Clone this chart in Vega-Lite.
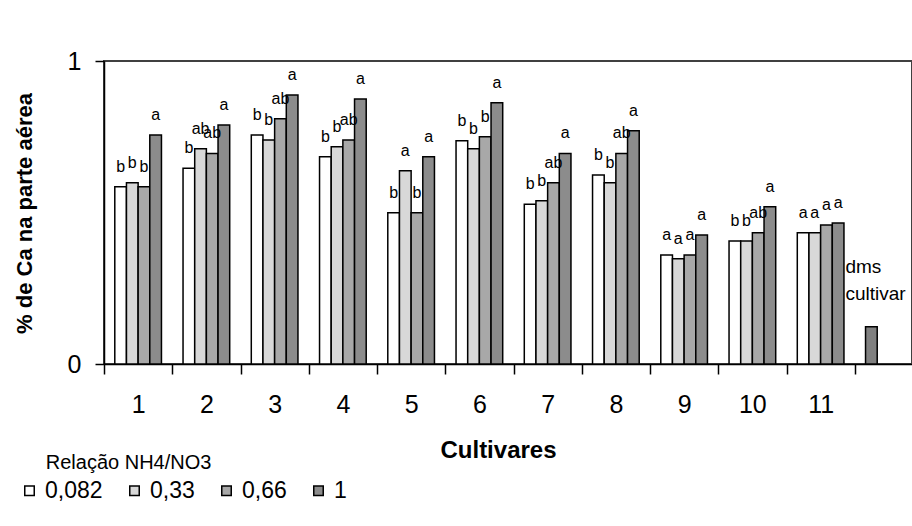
{
  "$schema": "https://vega.github.io/schema/vega-lite/v6.json",
  "autosize": "none",
  "padding": {"left": 104, "top": 61, "right": 0, "bottom": 162},
  "width": 808,
  "height": 303,
  "background": "white",
  "config": {
    "font": "Liberation Sans",
    "view": {"stroke": "#404040", "strokeWidth": 2},
    "axis": {"grid": false, "domainColor": "black", "tickColor": "black", "labelColor": "black", "titleColor": "black", "domainWidth": 1.5, "tickWidth": 1.5}
  },
  "data": {
    "values": [
      {"cultivar": 1, "relacao": "0,082", "valor": 0.585, "letra": "b"},
      {"cultivar": 1, "relacao": "0,33", "valor": 0.598, "letra": "b"},
      {"cultivar": 1, "relacao": "0,66", "valor": 0.585, "letra": "b"},
      {"cultivar": 1, "relacao": "1", "valor": 0.756, "letra": "a"},
      {"cultivar": 2, "relacao": "0,082", "valor": 0.646, "letra": "b"},
      {"cultivar": 2, "relacao": "0,33", "valor": 0.710, "letra": "ab"},
      {"cultivar": 2, "relacao": "0,66", "valor": 0.695, "letra": "ab"},
      {"cultivar": 2, "relacao": "1", "valor": 0.789, "letra": "a"},
      {"cultivar": 3, "relacao": "0,082", "valor": 0.756, "letra": "b"},
      {"cultivar": 3, "relacao": "0,33", "valor": 0.739, "letra": "b"},
      {"cultivar": 3, "relacao": "0,66", "valor": 0.809, "letra": "ab"},
      {"cultivar": 3, "relacao": "1", "valor": 0.888, "letra": "a"},
      {"cultivar": 4, "relacao": "0,082", "valor": 0.684, "letra": "b"},
      {"cultivar": 4, "relacao": "0,33", "valor": 0.717, "letra": "b"},
      {"cultivar": 4, "relacao": "0,66", "valor": 0.739, "letra": "ab"},
      {"cultivar": 4, "relacao": "1", "valor": 0.875, "letra": "a"},
      {"cultivar": 5, "relacao": "0,082", "valor": 0.499, "letra": "b"},
      {"cultivar": 5, "relacao": "0,33", "valor": 0.638, "letra": "a"},
      {"cultivar": 5, "relacao": "0,66", "valor": 0.499, "letra": "b"},
      {"cultivar": 5, "relacao": "1", "valor": 0.684, "letra": "a"},
      {"cultivar": 6, "relacao": "0,082", "valor": 0.737, "letra": "b"},
      {"cultivar": 6, "relacao": "0,33", "valor": 0.710, "letra": "b"},
      {"cultivar": 6, "relacao": "0,66", "valor": 0.750, "letra": "b"},
      {"cultivar": 6, "relacao": "1", "valor": 0.862, "letra": "a"},
      {"cultivar": 7, "relacao": "0,082", "valor": 0.527, "letra": "b"},
      {"cultivar": 7, "relacao": "0,33", "valor": 0.539, "letra": "b"},
      {"cultivar": 7, "relacao": "0,66", "valor": 0.598, "letra": "ab"},
      {"cultivar": 7, "relacao": "1", "valor": 0.695, "letra": "a"},
      {"cultivar": 8, "relacao": "0,082", "valor": 0.624, "letra": "b"},
      {"cultivar": 8, "relacao": "0,33", "valor": 0.598, "letra": "b"},
      {"cultivar": 8, "relacao": "0,66", "valor": 0.695, "letra": "ab"},
      {"cultivar": 8, "relacao": "1", "valor": 0.770, "letra": "a"},
      {"cultivar": 9, "relacao": "0,082", "valor": 0.360, "letra": "a"},
      {"cultivar": 9, "relacao": "0,33", "valor": 0.347, "letra": "a"},
      {"cultivar": 9, "relacao": "0,66", "valor": 0.360, "letra": "a"},
      {"cultivar": 9, "relacao": "1", "valor": 0.426, "letra": "a"},
      {"cultivar": 10, "relacao": "0,082", "valor": 0.406, "letra": "b"},
      {"cultivar": 10, "relacao": "0,33", "valor": 0.406, "letra": "b"},
      {"cultivar": 10, "relacao": "0,66", "valor": 0.433, "letra": "ab"},
      {"cultivar": 10, "relacao": "1", "valor": 0.519, "letra": "a"},
      {"cultivar": 11, "relacao": "0,082", "valor": 0.433, "letra": "a"},
      {"cultivar": 11, "relacao": "0,33", "valor": 0.433, "letra": "a"},
      {"cultivar": 11, "relacao": "0,66", "valor": 0.459, "letra": "a"},
      {"cultivar": 11, "relacao": "1", "valor": 0.465, "letra": "a"},
      {"cultivar": 12, "relacao": "dms", "valor": 0.123, "letra": "dms\ncultivar"}
    ]
  },
  "encoding": {
    "x": {
      "field": "cultivar",
      "type": "ordinal",
      "scale": {"range": [0, 819], "paddingInner": 0, "paddingOuter": 0},
      "axis": {
        "title": "Cultivares",
        "titleFontSize": 24,
        "titleFontWeight": "bold",
        "titleX": 394,
        "titleY": 86,
        "titleBaseline": "middle",
        "titleAlign": "center",
        "labelAngle": 0,
        "labelFontSize": 25,
        "labelBaseline": "middle",
        "labelPadding": 30,
        "tickSize": 10,
        "tickBand": "extent",
        "labelExpr": "datum.value == 12 ? '' : datum.label"
      }
    },
    "y": {
      "field": "valor",
      "type": "quantitative",
      "scale": {"domain": [0, 1], "nice": false},
      "axis": {
        "values": [0, 1],
        "format": "d",
        "title": "% de Ca na parte aérea",
        "titleFontSize": 22,
        "titleFontWeight": "bold",
        "titleX": -80,
        "titleY": 152,
        "titleAngle": 270,
        "titleBaseline": "middle",
        "titleAlign": "center",
        "labelFontSize": 25,
        "labelPadding": 14,
        "labelFlush": false,
        "tickSize": 9
      }
    }
  },
  "layer": [
    {
      "transform": [{"filter": "datum.relacao !== 'dms'"}],
      "mark": {"type": "bar", "stroke": "black", "strokeWidth": 1.5},
      "encoding": {
        "xOffset": {"field": "relacao", "type": "nominal", "scale": {"domain": ["0,082", "0,33", "0,66", "1"], "paddingInner": 0, "paddingOuter": 0.925}},
        "fill": {
          "field": "relacao",
          "type": "nominal",
          "scale": {"domain": ["0,082", "0,33", "0,66", "1"], "range": ["#ffffff", "#d8d8d8", "#a8a8a8", "#8c8c8c"]},
          "legend": {
            "title": "\u200b\u00a0\u00a0\u00a0\u00a0\u00a0Relação NH4/NO3",
            "titleLimit": 500,
            "orient": "none",
            "legendX": -86,
            "legendY": 392,
            "direction": "horizontal",
            "symbolType": "square",
            "symbolSize": 90,
            "symbolStrokeColor": "black",
            "symbolStrokeWidth": 1.5,
            "symbolOpacity": 1,
            "labelFontSize": 23,
            "labelColor": "black",
            "titleFontSize": 20,
            "titleFontWeight": "normal",
            "titleColor": "black",
            "labelOffset": 4,
            "columnPadding": 20,
            "titlePadding": 6
          }
        }
      }
    },
    {
      "transform": [{"filter": "datum.relacao !== 'dms'"}],
      "mark": {"type": "text", "dy": -15, "baseline": "alphabetic", "fontSize": 16, "color": "black"},
      "encoding": {
        "xOffset": {"field": "relacao", "type": "nominal"},
        "text": {"field": "letra"}
      }
    },
    {
      "transform": [{"filter": "datum.relacao === 'dms'"}],
      "mark": {"type": "bar", "fill": "#808080", "stroke": "black", "strokeWidth": 1.5},
      "encoding": {
        "xOffset": {"datum": "0,082", "type": "nominal"}
      }
    },
    {
      "transform": [{"filter": "datum.relacao === 'dms'"}],
      "mark": {"type": "text", "align": "left", "dx": -26, "dy": -54, "baseline": "alphabetic", "lineBreak": "\n", "lineHeight": 27, "fontSize": 19, "color": "black"},
      "encoding": {
        "xOffset": {"datum": "0,082", "type": "nominal"},
        "text": {"field": "letra"}
      }
    }
  ]
}
